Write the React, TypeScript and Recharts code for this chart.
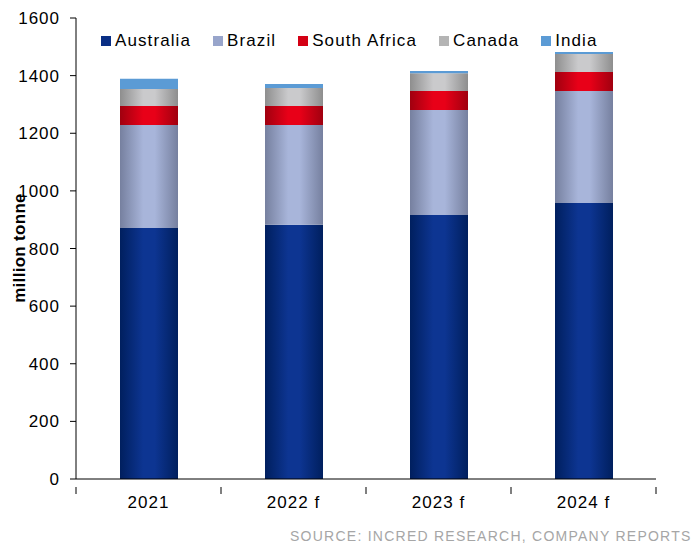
import * as React from 'react';
import { BarChart, Bar, XAxis, YAxis } from 'recharts';

const years = ['2021', '2022 f', '2023 f', '2024 f'];
const australia = [871, 882, 916, 958];
const brazil = [358, 347, 365, 389];
const southAfrica = [66, 66, 66, 66];
const canada = [59, 62, 61, 62];
const india = [35, 14, 8, 7];
const yTicks = [0, 200, 400, 600, 800, 1000, 1200, 1400, 1600];

const data = years.map((year, i) => ({
  year,
  Australia: australia[i],
  Brazil: brazil[i],
  'South Africa': southAfrica[i],
  Canada: canada[i],
  India: india[i],
}));

const SERIES = [
  { key: 'Australia', fill: 'url(#gAus)', swatch: '#0a2f85' },
  { key: 'Brazil', fill: 'url(#gBra)', swatch: '#98a5cb' },
  { key: 'South Africa', fill: 'url(#gSa)', swatch: '#d40014' },
  { key: 'Canada', fill: 'url(#gCan)', swatch: '#b4b4b4' },
  { key: 'India', fill: '#5b9bd5', swatch: '#5b9bd5' },
];

const FONT = 'Liberation Sans, Arial, sans-serif';
const BAND = 145;

function Grad({ id, edge, mid }: { id: string; edge: string; mid: string }) {
  return (
    <linearGradient id={id} x1="0" y1="0" x2="1" y2="0">
      <stop offset="0%" stopColor={edge} />
      <stop offset="40%" stopColor={mid} />
      <stop offset="60%" stopColor={mid} />
      <stop offset="100%" stopColor={edge} />
    </linearGradient>
  );
}

function XTick(props: any) {
  const { x, y, payload, index } = props;
  const left = x - BAND / 2;
  return (
    <g>
      <line x1={left} y1={y} x2={left} y2={y + 7} stroke="#000" />
      {index === years.length - 1 && (
        <line x1={x + BAND / 2} y1={y} x2={x + BAND / 2} y2={y + 7} stroke="#000" />
      )}
      <text x={x} y={y + 21} textAnchor="middle" fontSize={17} letterSpacing={1} fontFamily={FONT} fill="#000">
        {payload.value}
      </text>
    </g>
  );
}

function LegendBox() {
  return (
    <div
      style={{
        position: 'absolute',
        top: 31,
        left: 101,
        display: 'flex',
        fontFamily: FONT,
        fontSize: 17,
        letterSpacing: 1.1,
        color: '#000',
        lineHeight: '20px',
      }}
    >
      {SERIES.map((s) => (
        <div key={s.key} style={{ display: 'flex', alignItems: 'center', marginRight: 22 }}>
          <span style={{ width: 10, height: 10, background: s.swatch, marginRight: 4, display: 'inline-block' }} />
          <span>{s.key}</span>
        </div>
      ))}
    </div>
  );
}

export default function App() {
  return (
    <div style={{ position: 'absolute', left: 0, top: 0, width: 691, height: 547, background: '#fff', overflow: 'hidden' }}>
      <BarChart width={691} height={547} data={data} margin={{ top: 18, right: 35, bottom: 0, left: 0 }}>
        <defs>
          <Grad id="gAus" edge="#001f5e" mid="#0d3592" />
          <Grad id="gBra" edge="#76809f" mid="#a8b5da" />
          <Grad id="gSa" edge="#a0000f" mid="#e80018" />
          <Grad id="gCan" edge="#8e8e8e" mid="#cacacc" />
        </defs>
        <XAxis
          dataKey="year"
          height={68}
          axisLine={{ stroke: '#000' }}
          tickLine={false}
          tick={<XTick />}
          interval={0}
        />
        <YAxis
          width={76}
          domain={[0, 1600]}
          ticks={yTicks}
          interval={0}
          axisLine={{ stroke: '#000' }}
          tickLine={{ stroke: '#000' }}
          tickSize={6}
          tickMargin={10}
          tick={{ fontSize: 17, fill: '#000', fontFamily: FONT, letterSpacing: 1 }}
          label={{
            content: () => (
              <text
                x={25}
                y={248}
                transform="rotate(-90 25 248)"
                textAnchor="middle"
                fontSize={17}
                fontWeight="bold"
                letterSpacing={0.3}
                fontFamily={FONT}
                fill="#000"
              >
                million tonne
              </text>
            ),
          }}
        />
        {SERIES.map((s) => (
          <Bar key={s.key} dataKey={s.key} stackId="a" fill={s.fill} barSize={58} isAnimationActive={false} />
        ))}
        <text x={290} y={541} fontSize={14} letterSpacing={1.25} fontFamily={FONT} fill="#a6a6a6">
          SOURCE: INCRED RESEARCH, COMPANY REPORTS
        </text>
      </BarChart>
      <LegendBox />
    </div>
  );
}
